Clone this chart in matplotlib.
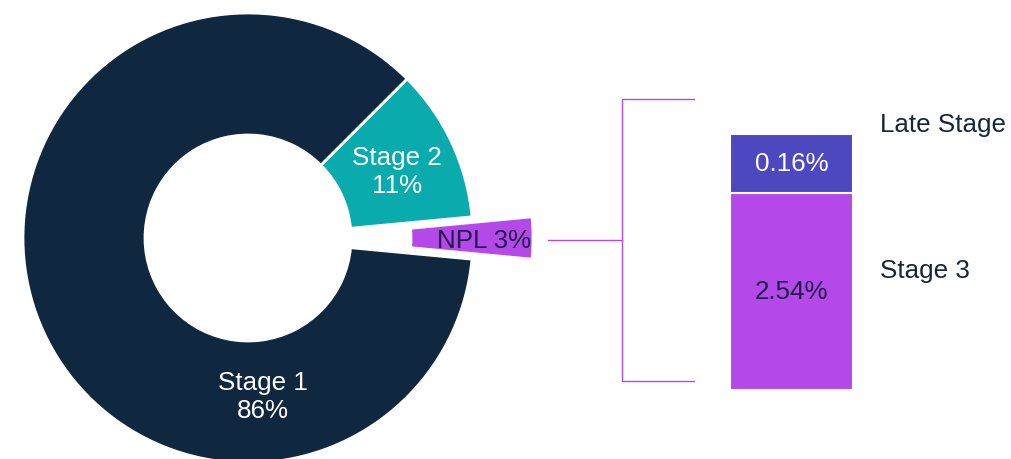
import numpy as np
import matplotlib.pyplot as plt

plt.rcParams['font.family'] = ['Liberation Sans', 'DejaVu Sans']

# donut data (percent of book)
pie_labels = ['Stage 2', 'NPL', 'Stage 1']
pie_values = [11, 3, 86]
pie_colors = ['#0AABAD', '#B548E8', '#10283F']

# NPL breakdown (percent of book)
npl_labels = ['Stage 3', 'Late Stage']
npl_values = [2.54, 0.16]
npl_colors = ['#B548E8', '#4E48C0']

W, H = 1012, 459
fig = plt.figure(figsize=(W / 100, H / 100), dpi=100)

# main axes in pixel units (y up)
ax = fig.add_axes([0, 0, 1, 1])

cx, cy, R = 248, H - 238, 225
hole = 103
# explode is in data units here (radius isn't 1)
wedges, _ = ax.pie(pie_values, colors=pie_colors, startangle=45, counterclock=False,
                   center=(cx, cy), radius=R, explode=[0, 60, 0], frame=True,
                   wedgeprops=dict(width=R - hole, edgecolor='white', linewidth=2))
ax.set_xlim(0, W)
ax.set_ylim(0, H)
ax.set_aspect('equal')
ax.axis('off')

ax.text(397, H - 172, f'{pie_labels[0]}\n{pie_values[0]}%', ha='center', va='center',
        color='white', fontsize=18.7, linespacing=1.2)
ax.text(484, H - 241, f'{pie_labels[1]} {pie_values[1]}%', ha='center', va='center',
        color='#1E1D4A', fontsize=18.7)
ax.text(263, H - 397, f'{pie_labels[2]}\n{pie_values[2]}%', ha='center', va='center',
        color='white', fontsize=18.7, linespacing=1.2)

# bracket linking NPL slice to the breakdown bar
bc = '#B548E8'
ax.plot([548, 622], [H - 240, H - 240], color=bc, lw=1)
ax.plot([694, 622, 622, 694], [H - 99, H - 99, H - 381, H - 381], color=bc, lw=1)

# stacked bar; power scale so the small segment stays readable
p = 4.3
fwd = lambda y: np.power(np.clip(y, 0, None), p)
inv = lambda y: np.power(np.clip(y, 0, None), 1 / p)

bx = fig.add_axes([730 / W, (H - 390) / H, 123 / W, 256 / H])
bx.set_yscale('function', functions=(fwd, inv))
bottom = 0
for lab, val, col in zip(npl_labels, npl_values, npl_colors):
    bx.bar(0, val, bottom=bottom, width=1, color=col, edgecolor='white', linewidth=1.5)
    mid = inv((fwd(bottom) + fwd(bottom + val)) / 2)
    tcol = 'white' if lab == 'Late Stage' else '#1E1D4A'
    bx.text(0, mid, f'{val:.2f}%', ha='center', va='center', color=tcol, fontsize=18.7)
    bottom += val
bx.set_xlim(-0.5, 0.5)
bx.set_ylim(0, sum(npl_values))
bx.axis('off')

ax.text(880, H - 125, npl_labels[1], ha='left', va='center', color='#14253D', fontsize=18.7)
ax.text(880, H - 271, npl_labels[0], ha='left', va='center', color='#14253D', fontsize=18.7)

fig.savefig('out.png', dpi=100)
